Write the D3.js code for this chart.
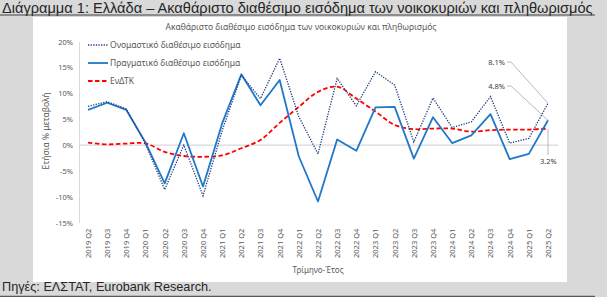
<!DOCTYPE html>
<html>
<head>
<meta charset="utf-8">
<script src="https://cdnjs.cloudflare.com/ajax/libs/d3/7.8.5/d3.min.js"></script>
<style>
  body { margin: 0; background: #d9d9d9; }
  svg { display: block; }
</style>
</head>
<body>
<script>
var quarters = ["2019 Q2","2019 Q3","2019 Q4","2020 Q1","2020 Q2","2020 Q3","2020 Q4",
    "2021 Q1","2021 Q2","2021 Q3","2021 Q4","2022 Q1","2022 Q2","2022 Q3","2022 Q4",
    "2023 Q1","2023 Q2","2023 Q3","2023 Q4","2024 Q1","2024 Q2","2024 Q3","2024 Q4",
    "2025 Q1","2025 Q2"];
var nominal = [7.5, 8.4, 7.0, 0.3, -8.6, 0.0, -9.8, 2.8, 13.5, 9.0, 16.8, 5.5, -1.7, 12.9, 7.6,
    14.2, 11.6, 0.6, 9.1, 3.4, 4.5, 9.4, 0.4, 1.3, 8.1];
var real = [6.8, 8.2, 6.8, 0.5, -7.4, 2.3, -8.0, 4.2, 13.7, 7.7, 12.6, -2.2, -10.9, 1.1, -1.1,
    7.3, 7.4, -2.6, 5.4, 0.4, 1.9, 6.0, -2.7, -1.7, 4.8];
var hicp = [0.5, 0.15, 0.3, 0.35, -1.3, -2.1, -2.25, -2.0, -0.6, 1.0, 4.3, 7.4, 10.3, 11.3, 9.0,
    6.5, 3.9, 3.1, 3.2, 3.2, 2.6, 2.9, 3.0, 3.0, 3.2];
var yTicks = [-15, -10, -5, 0, 5, 10, 15, 20];
var seriesNames = ["Ονομαστικό διαθέσιμο εισόδημα", "Πραγματικό διαθέσιμο εισόδημα", "ΕνΔΤΚ"];

var W = 607, H = 297;
var chartFont = "'Noto Sans', sans-serif";
var textGrey = "#595959";

var svg = d3.select("body").append("svg")
    .attr("width", W)
    .attr("height", H);

svg.append("rect").attr("width", W).attr("height", H).attr("fill", "#d9d9d9");

// header title + underline
svg.append("text")
    .attr("x", 2).attr("y", 12.5)
    .attr("font-family", "'Liberation Sans', Arial, sans-serif")
    .attr("font-size", 14.6)
    .attr("fill", "#262626")
    .text("Διάγραμμα 1: Ελλάδα – Ακαθάριστο διαθέσιμο εισόδημα των νοικοκυριών και πληθωρισμός");
svg.append("line").attr("x1", 0).attr("x2", 595).attr("y1", 15).attr("y2", 15)
    .attr("stroke", "#404040").attr("stroke-width", 1);

// white chart panel
svg.append("rect").attr("x", 33).attr("y", 17).attr("width", 534).attr("height", 265)
    .attr("fill", "#ffffff");

// footer
svg.append("text")
    .attr("x", 2).attr("y", 291)
    .attr("font-family", "'Liberation Sans', Arial, sans-serif")
    .attr("font-size", 12.7)
    .attr("fill", "#262626")
    .text("Πηγές: ΕΛΣΤΑΤ, Eurobank Research.");
svg.append("line").attr("x1", 0).attr("x2", 595).attr("y1", 296.5).attr("y2", 296.5)
    .attr("stroke", "#595959").attr("stroke-width", 1.5);

// chart title
svg.append("text")
    .attr("x", 301).attr("y", 30)
    .attr("text-anchor", "middle")
    .attr("font-family", chartFont)
    .attr("font-size", 8.5)
    .attr("fill", textGrey)
    .text("Ακαθάριστο διαθέσιμο εισόδημα των νοικοκυριών και πληθωρισμός");

var x = d3.scalePoint().domain(quarters).range([88, 548]);
var y = d3.scaleLinear().domain([-15, 20]).range([222.7, 41.7]);

// y axis
var yAxis = svg.append("g")
    .attr("transform", "translate(79,0)")
    .call(d3.axisLeft(y).tickValues(yTicks).tickSize(0).tickPadding(6)
        .tickFormat(function (d) { return d + "%"; }));
yAxis.select(".domain").attr("stroke", "#d9d9d9");
yAxis.selectAll("text")
    .attr("font-family", chartFont)
    .attr("font-size", 7.5)
    .attr("fill", textGrey);

// zero line
svg.append("line")
    .attr("x1", 79).attr("x2", 558)
    .attr("y1", y(0)).attr("y2", y(0))
    .attr("stroke", "#d9d9d9").attr("stroke-width", 1.2);

// x labels
var xAxis = svg.append("g")
    .attr("transform", "translate(0,222.7)")
    .call(d3.axisBottom(x).tickSize(0));
xAxis.select(".domain").remove();
xAxis.selectAll("text")
    .attr("font-family", chartFont)
    .attr("font-size", 7.5)
    .attr("fill", textGrey)
    .attr("text-anchor", "end")
    .attr("dy", "0.32em")
    .attr("transform", "translate(0,6) rotate(-90)")
    .attr("y", 0)
    .attr("x", 0);

// axis titles
svg.append("text")
    .attr("x", 318).attr("y", 273)
    .attr("text-anchor", "middle")
    .attr("font-family", chartFont)
    .attr("font-size", 8)
    .attr("fill", textGrey)
    .text("Τρίμηνο-Έτος");
svg.append("text")
    .attr("transform", "translate(49,131) rotate(-90)")
    .attr("text-anchor", "middle")
    .attr("font-family", chartFont)
    .attr("font-size", 8.5)
    .attr("fill", textGrey)
    .text("Ετήσια % μεταβολή");

// lines
var lineStraight = d3.line()
    .x(function (d, i) { return x(quarters[i]); })
    .y(function (d) { return y(d); });
var lineSmooth = d3.line()
    .x(function (d, i) { return x(quarters[i]); })
    .y(function (d) { return y(d); })
    .curve(d3.curveCatmullRom.alpha(0.5));

svg.append("path").datum(hicp)
    .attr("d", lineSmooth)
    .attr("fill", "none")
    .attr("stroke", "#ff0000")
    .attr("stroke-width", 1.8)
    .attr("stroke-dasharray", "4.5,2.5");

svg.append("path").datum(real)
    .attr("d", lineStraight)
    .attr("fill", "none")
    .attr("stroke", "#1f78c8")
    .attr("stroke-width", 1.8)
    .attr("stroke-linejoin", "round");

svg.append("path").datum(nominal)
    .attr("d", lineStraight)
    .attr("fill", "none")
    .attr("stroke", "#203c80")
    .attr("stroke-width", 1.3)
    .attr("stroke-dasharray", "1.3,1.3");

// legend
var legendStyles = [
    { color: "#203c80", width: 1.3, dash: "1.3,1.3" },
    { color: "#1f78c8", width: 1.8, dash: null },
    { color: "#ff0000", width: 1.8, dash: "4.5,2.5" }
];
var legend = svg.append("g");
seriesNames.forEach(function (name, i) {
    var ly = 45 + i * 18;
    legend.append("line")
        .attr("x1", 88).attr("x2", 108).attr("y1", ly).attr("y2", ly)
        .attr("stroke", legendStyles[i].color)
        .attr("stroke-width", legendStyles[i].width)
        .attr("stroke-dasharray", legendStyles[i].dash);
    legend.append("text")
        .attr("x", 110).attr("y", ly)
        .attr("dy", "0.35em")
        .attr("font-family", chartFont)
        .attr("font-size", 8.5)
        .attr("fill", textGrey)
        .text(name);
});

// end labels
var last = quarters[quarters.length - 1];
var lx = x(last);
var ann = svg.append("g");
function leader(points) {
    ann.append("path")
        .attr("d", d3.line()(points))
        .attr("fill", "none")
        .attr("stroke", "#a6a6a6")
        .attr("stroke-width", 0.8);
}
function annText(tx, ty, s, anchor) {
    ann.append("text")
        .attr("x", tx).attr("y", ty)
        .attr("dy", "0.35em")
        .attr("text-anchor", anchor)
        .attr("font-family", chartFont)
        .attr("font-size", 7.5)
        .attr("fill", "#404040")
        .text(s);
}
var nLast = nominal[nominal.length - 1], rLast = real[real.length - 1], hLast = hicp[hicp.length - 1];
leader([[507, 62], [511, 62], [lx, y(nLast)]]);
annText(505, 62, nLast.toFixed(1) + "%", "end");
leader([[507, 86], [511, 86], [lx, y(rLast)]]);
annText(505, 86, rLast.toFixed(1) + "%", "end");
leader([[lx, y(hLast)], [lx, 155]]);
annText(lx - 8, 161, hLast.toFixed(1) + "%", "start");
</script>
</body>
</html>
